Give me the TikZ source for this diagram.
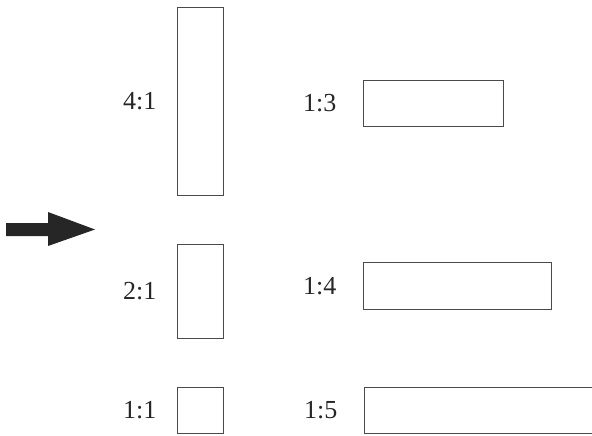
\documentclass[tikz,border=0pt]{standalone}
\usepackage{fontspec}
\setmainfont{Liberation Serif}
\usetikzlibrary{positioning}
\definecolor{edge}{HTML}{4A4A4A}

\begin{document}
\begin{tikzpicture}[x=1pt,y=-1pt,node distance=0pt and 17pt,
  box/.style={draw=edge,line width=1.1pt,inner sep=0pt,anchor=north west},
  ratio/.style={font=\fontsize{26}{30}\selectfont,text=black!85}]
\useasboundingbox (0,0) rectangle (592,436);
% tall column
\node[box,minimum width=46pt,minimum height=188pt] (r41) at (177,7) {};
\node[box,minimum width=46pt,minimum height=94pt] (r21) at (177,244) {};
\node[box,minimum width=46pt,minimum height=46pt] (r11) at (177,387) {};
% wide column
\node[box,minimum width=140pt,minimum height=46pt] (r13) at (363,80) {};
\node[box,minimum width=188pt,minimum height=47pt] (r14) at (363,262) {};
\node[box,minimum width=280pt,minimum height=46pt] (r15) at (364,387) {};
\node[ratio,left=of r41] (l41) {4:1};
\node[ratio,left=of r21] (l21) {2:1};
\node[ratio,left=of r11] (l11) {1:1};
\node[ratio,left=23pt of r13] (l13) {1:3};
\node[ratio,left=23pt of r14] (l14) {1:4};
\node[ratio,left=23pt of r15] (l15) {1:5};
% block arrow
\fill[black!85] (6,223) -- (48,223) -- (48,212) -- (95,229.5) -- (48,246) -- (48,236) -- (6,236) -- cycle;
\end{tikzpicture}
\end{document}
